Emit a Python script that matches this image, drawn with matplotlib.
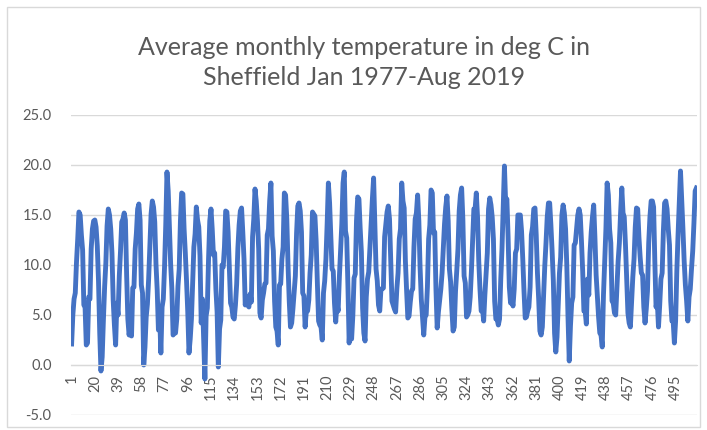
import matplotlib
matplotlib.use("Agg")
import matplotlib.pyplot as plt
from matplotlib.patches import Rectangle

# monthly mean temperature (deg C), Sheffield
y1977 = [2.1, 5.0, 6.6, 7.2, 10.3, 12.6, 15.3, 15.0, 13.0, 11.5, 6.0, 5.8]
y1978 = [2.0, 2.2, 6.8, 6.6, 11.6, 13.6, 14.4, 14.5, 13.8, 11.9, 8.4, 3.2]
y1979 = [-0.6, 0.8, 4.5, 7.8, 10.2, 13.9, 15.6, 15.0, 13.6, 11.2, 6.5, 4.0]
y1980 = [2.0, 6.2, 5.0, 8.9, 11.4, 14.3, 14.6, 15.2, 14.5, 9.0, 4.6, 3.0]
y1981 = [3.8, 2.9, 7.7, 7.8, 11.6, 13.2, 15.6, 16.1, 14.5, 8.0, 7.2, 0.0]
y1982 = [1.8, 4.8, 6.1, 8.6, 11.8, 15.1, 16.4, 15.8, 14.3, 10.1, 7.5, 3.5]
y1983 = [5.0, 1.2, 5.8, 6.6, 9.8, 14.0, 19.3, 17.4, 13.6, 10.1, 7.6, 3.0]
y1984 = [3.3, 3.2, 4.6, 7.9, 9.6, 14.4, 17.2, 17.1, 13.6, 11.2, 8.4, 5.3]
y1985 = [1.2, 2.6, 4.6, 8.2, 11.8, 13.1, 15.8, 14.5, 13.8, 10.9, 4.2, 6.6]
y1986 = [2.6, -1.4, 4.9, 5.7, 10.6, 14.4, 15.6, 13.6, 11.0, 11.2, 7.6, 5.3]
y1987 = [-0.2, 3.6, 4.5, 10.0, 9.8, 11.8, 15.4, 15.3, 13.3, 9.6, 6.2, 5.8]
y1988 = [4.8, 4.6, 6.0, 8.1, 11.7, 14.0, 15.4, 15.7, 13.3, 10.6, 6.0, 6.8]
y1989 = [6.0, 5.8, 7.1, 6.3, 12.8, 14.6, 17.6, 16.4, 14.4, 11.6, 5.2, 4.7]
y1990 = [6.5, 7.2, 8.1, 8.2, 13.0, 13.6, 16.4, 18.2, 12.9, 11.4, 6.4, 3.8]
y1991 = [3.4, 2.0, 8.0, 8.1, 10.6, 11.8, 17.2, 17.0, 14.6, 10.0, 6.4, 3.8]
y1992 = [4.2, 5.6, 7.3, 8.9, 13.2, 15.9, 16.2, 15.4, 13.3, 7.2, 6.9, 3.8]
y1993 = [5.5, 5.4, 6.5, 9.2, 11.0, 15.3, 15.1, 14.9, 12.4, 8.2, 4.4, 4.0]
y1994 = [3.8, 2.5, 7.2, 8.4, 10.6, 14.1, 18.2, 16.2, 12.8, 9.6, 9.4, 6.2]
y1995 = [4.3, 6.2, 5.4, 8.8, 11.4, 14.1, 18.2, 19.3, 13.4, 12.7, 7.9, 2.2]
y1996 = [4.6, 2.6, 4.9, 8.7, 9.1, 14.4, 16.8, 16.6, 13.7, 11.3, 5.7, 3.2]
y1997 = [2.4, 6.8, 8.6, 9.3, 11.8, 14.2, 16.6, 18.7, 14.3, 9.6, 8.4, 6.0]
y1998 = [5.4, 7.6, 7.6, 7.7, 12.8, 14.0, 15.3, 15.9, 14.6, 10.4, 6.4, 6.0]
y1999 = [5.6, 5.3, 7.6, 9.2, 12.6, 13.6, 18.2, 16.4, 15.7, 10.4, 7.4, 4.7]
y2000 = [4.9, 6.3, 7.4, 7.6, 11.8, 14.6, 15.2, 17.0, 14.4, 9.8, 6.6, 4.8]
y2001 = [3.0, 4.8, 5.0, 7.8, 12.6, 14.0, 17.5, 17.2, 13.2, 13.3, 7.6, 3.7]
y2002 = [5.3, 6.5, 7.6, 9.2, 11.7, 14.1, 15.8, 16.9, 14.4, 9.6, 8.3, 5.6]
y2003 = [3.4, 3.8, 7.4, 9.4, 11.6, 15.4, 17.0, 17.7, 14.6, 8.9, 8.2, 4.8]
y2004 = [5.0, 5.4, 6.8, 9.4, 12.4, 15.6, 15.6, 17.2, 14.8, 10.4, 7.6, 5.4]
y2005 = [5.8, 4.4, 7.0, 9.2, 11.2, 15.6, 16.7, 16.0, 14.8, 12.6, 6.4, 4.6]
y2006 = [4.6, 4.0, 4.6, 8.6, 11.6, 15.8, 19.9, 16.2, 16.6, 12.8, 7.8, 6.2]
y2007 = [6.6, 5.9, 7.6, 11.2, 11.6, 15.0, 15.0, 15.0, 13.4, 10.6, 7.4, 4.7]
y2008 = [4.8, 5.4, 5.8, 7.8, 13.0, 13.8, 15.6, 15.7, 13.0, 9.2, 6.6, 3.4]
y2009 = [3.0, 3.8, 6.8, 9.9, 12.2, 14.8, 16.2, 16.2, 14.0, 11.4, 8.4, 3.2]
y2010 = [1.3, 2.8, 6.0, 9.2, 10.8, 15.0, 16.0, 15.2, 13.6, 10.0, 4.8, 0.4]
y2011 = [3.9, 6.2, 6.8, 12.0, 12.2, 13.6, 15.0, 15.6, 15.0, 12.4, 9.4, 5.4]
y2012 = [5.4, 4.1, 8.6, 7.0, 11.2, 13.3, 14.8, 16.0, 12.8, 9.0, 6.8, 4.8]
y2013 = [3.2, 3.0, 1.8, 7.0, 10.2, 13.6, 18.2, 17.0, 13.6, 12.2, 6.4, 6.2]
y2014 = [5.2, 5.0, 7.8, 10.4, 12.2, 15.2, 17.7, 15.2, 14.8, 12.0, 8.6, 5.2]
y2015 = [4.2, 3.8, 6.2, 8.8, 10.6, 13.8, 15.7, 15.6, 12.8, 10.8, 9.2, 9.0]
y2016 = [5.8, 4.2, 5.6, 7.4, 12.2, 14.8, 16.4, 16.4, 15.8, 10.4, 5.8, 6.4]
y2017 = [3.8, 6.0, 8.6, 9.2, 13.4, 16.2, 16.4, 15.6, 13.6, 12.0, 6.4, 4.4]
y2018 = [4.4, 2.2, 4.4, 9.4, 13.0, 16.2, 19.4, 16.6, 13.6, 10.4, 8.0, 6.4]
y2019 = [4.4, 6.8, 7.6, 9.6, 11.4, 14.2, 17.4, 17.7]

years = [y1977, y1978, y1979, y1980, y1981, y1982, y1983, y1984, y1985,
         y1986, y1987, y1988, y1989, y1990, y1991, y1992, y1993, y1994,
         y1995, y1996, y1997, y1998, y1999, y2000, y2001, y2002, y2003,
         y2004, y2005, y2006, y2007, y2008, y2009, y2010, y2011, y2012,
         y2013, y2014, y2015, y2016, y2017, y2018, y2019]
temps = [t for yr in years for t in yr]
months = list(range(1, len(temps) + 1))

title = "Average monthly temperature in deg C in\nSheffield Jan 1977-Aug 2019"
y_ticks = [-5, 0, 5, 10, 15, 20, 25]
x_ticks = list(range(1, len(temps) + 1, 19))

plt.rcParams['font.family'] = ['Lato', 'DejaVu Sans']
grey = '#595959'

fig = plt.figure(figsize=(7.07, 4.30), dpi=100)
ax = fig.add_axes([71 / 707, 15 / 430, 626 / 707, 300 / 430])

ax.plot(months, temps, color='#4472C4', linewidth=3.5, solid_joinstyle='round')

ax.set_xlim(0.5, len(temps) + 0.5)
ax.set_ylim(-5, 25)
ax.set_yticks(y_ticks)
ax.set_yticklabels(["%.1f" % v for v in y_ticks])
ax.set_xticks(x_ticks)
ax.set_xticklabels([str(v) for v in x_ticks])
ax.tick_params(axis='y', length=0, pad=14, labelsize=10.5, labelcolor=grey)
ax.tick_params(axis='x', length=0, pad=7, labelsize=10.5, labelcolor=grey,
               labelrotation=90)
ax.grid(axis='y', color='#d9d9d9', linewidth=1)
ax.set_axisbelow(True)

for s in ['top', 'right', 'left']:
    ax.spines[s].set_visible(False)
ax.spines['bottom'].set_position(('data', 0))
ax.spines['bottom'].set_color('#d9d9d9')

fig.text(0.515, 0.855, title, ha='center', va='center', fontsize=18,
         color=grey, linespacing=1.4)

fig.patches.append(Rectangle((7 / 707, 3 / 430), 693 / 707, 420 / 430,
                             transform=fig.transFigure, fill=False,
                             edgecolor='#d9d9d9', linewidth=1))

fig.savefig('out.png', dpi=100)
